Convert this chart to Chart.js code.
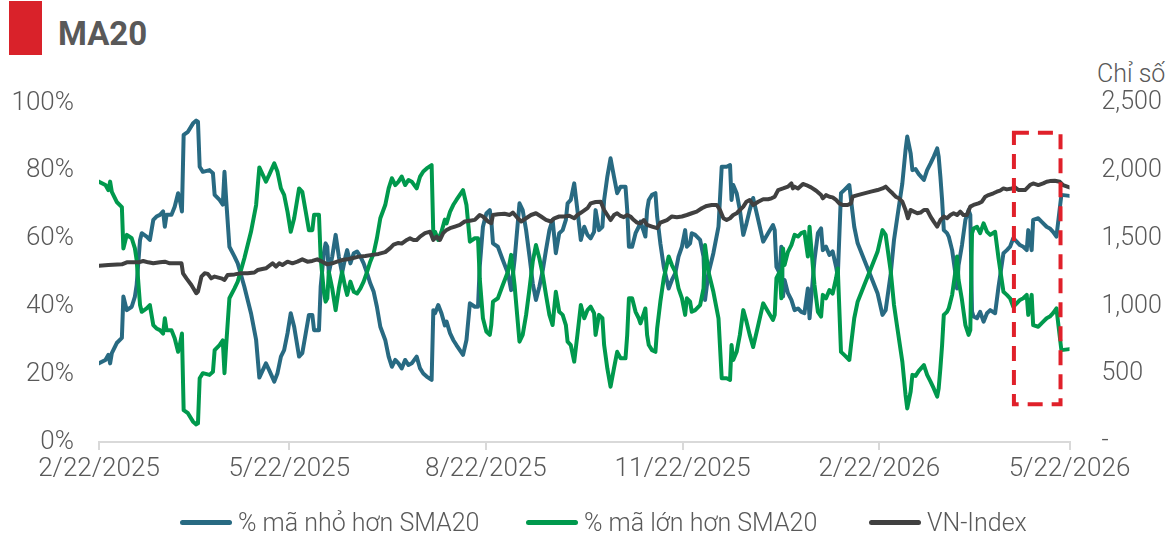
<!DOCTYPE html>
<html>
<head>
<meta charset="utf-8">
<script src="https://cdn.jsdelivr.net/npm/chart.js@4.4.1/dist/chart.umd.min.js"></script>
<style>
  body { margin: 0; background: #fff; font-family: Roboto, sans-serif; }
  #wrap { position: relative; width: 1168px; height: 541px; overflow: hidden; }
  #chart { position: absolute; left: 0; top: 0; }
  .mark { position: absolute; left: 9px; top: 1px; width: 33px; height: 54px; background: #d9222a; }
  .title { position: absolute; left: 58px; top: 14px; font: 700 33px Roboto, sans-serif; color: #595959; }
  .unit { position: absolute; left: 1097px; top: 59px; font: 300 25px Roboto, sans-serif; color: #595959; white-space: nowrap; }
  .legend { position: absolute; top: 507px; height: 30px; display: flex; align-items: center; font: 300 25px Roboto, sans-serif; color: #595959; white-space: nowrap; }
  .legend i { display: inline-block; width: 52px; height: 5px; border-radius: 3px; margin-right: 6px; }
</style>
</head>
<body>
<div id="wrap">
  <div class="mark"></div>
  <div class="title">MA20</div>
  <div class="unit">Chỉ số</div>
  <canvas id="chart" width="1168" height="541"></canvas>
  <div class="legend" style="left:180px"><i style="background:#286a82"></i>% mã nhỏ hơn SMA20</div>
  <div class="legend" style="left:526px"><i style="background:#00994d"></i>% mã lớn hơn SMA20</div>
  <div class="legend" style="left:869px"><i style="background:#404040"></i>VN-Index</div>
</div>
<script>
// days counted from 2/22/2025
const tickDays = [0, 89, 181, 273, 365, 454];
const tickLabels = ['2/22/2025', '5/22/2025', '8/22/2025', '11/22/2025', '2/22/2026', '5/22/2026'];

const breadthDays = [
  0, 3, 4.4, 5.2, 6, 8.3, 10.7, 11.4, 13, 15.3,
  16.8, 17.6, 19.2, 20, 22.3, 23.8, 25.4, 26.9, 28.5, 30,
  30.8, 31.6, 33.9, 35.4, 37, 37.8, 38.8, 39.6, 41.6, 44,
  45.5, 46.3, 47.1, 48.6, 51.7, 53.3, 54.1, 56.4, 57.9, 58.7,
  59.5, 61, 63.4, 64.9, 68, 71.1, 73.5, 75, 78.1, 79.6,
  82, 83.5, 85.1, 86.6, 88.2, 89.7, 91.3, 93.6, 95.1, 96.7,
  98.2, 99.8, 100.6, 102.9, 103.7, 105.2, 106, 106.8, 107.5, 109.1,
  110.7, 112.2, 113.7, 115.3, 116.1, 117.6, 119.2, 120.7, 122.3, 123.8,
  125.4, 126.9, 128.5, 130, 131.6, 133.9, 135.5, 137, 138.6, 140.1,
  141.6, 143.2, 144.8, 146.3, 148.6, 150.2, 151.7, 153.3, 155.6, 156.4,
  157.2, 158.7, 160.2, 161.8, 162.6, 164.2, 165.7, 167.2, 170.3, 171.9,
  173.5, 175.8, 177.3, 178.1, 179.6, 181.2, 182.8, 183.5, 184.3, 186.6,
  188.9, 191.3, 192.8, 194.4, 196.7, 198.2, 199.8, 201.4, 202.9, 204.4,
  206, 207.6, 209.1, 210.7, 212.2, 213.7, 215.3, 216.9, 218.4, 219.2,
  220.7, 222.3, 223.8, 225.4, 227, 228.5, 230, 231.6, 232.3, 233.9,
  235.5, 236.3, 237.8, 239.3, 240.9, 242.4, 244, 246.3, 247.1, 247.9,
  249.4, 251, 252.5, 253.3, 254.9, 255.6, 256.4, 257.2, 258.7, 260.3,
  261.1, 262.6, 264.2, 266.5, 268, 269.6, 271.1, 272.7, 274.2, 275,
  276.5, 277.3, 278.9, 281.2, 282.8, 283.5, 285.1, 287.4, 289.8, 291.3,
  293.6, 295.2, 295.9, 296.7, 298.3, 299.8, 301.4, 302.9, 304.4, 306,
  308.4, 310.7, 313, 315.3, 316.1, 316.9, 318.4, 319.2, 320, 320.7,
  322.3, 323.9, 325.4, 327, 328.5, 330, 331.6, 332.4, 333.1, 334.7,
  336.3, 337.8, 338.6, 340.1, 341.7, 343.2, 344.8, 345.6, 347.1, 348.6,
  351, 351.8, 353.3, 354.9, 358, 361.1, 364.2, 366.5, 368, 370.4,
  371.9, 373.5, 375.8, 377.3, 378.1, 379.7, 380.5, 382, 383.5, 385.9,
  387.4, 389, 390.5, 392.1, 392.8, 393.6, 394.4, 395.2, 396.7, 397.5,
  399.1, 400.6, 401.4, 402.1, 403.7, 405.3, 406.8, 407.6, 408.4, 409.1,
  410.7, 412.2, 413.8, 415.4, 416.9, 419.2, 420.8, 423.1, 424.7, 426.2,
  427.7, 429.3, 430.8, 432.4, 434, 434.7, 435.5, 436.3, 437, 439.4,
  440.9, 443.3, 444.8, 446.3, 447.9, 450.2, 454
];

// % of tickers below their 20-day SMA
const belowSma = [
  23.2, 24.2, 25.7, 23.2, 26.2, 29.2, 30.7, 42.9, 38.9, 39.9,
  42.9, 46.3, 59.6, 61.6, 60.6, 59.6, 65.5, 66.5, 67, 68,
  63.5, 67, 67, 69.4, 73.4, 71.4, 68, 90.6, 91.5, 94,
  94.8, 94.5, 81.2, 79.7, 80.2, 79.3, 72.9, 71.4, 70, 79.7,
  71.4, 57.6, 54.7, 52.7, 45.8, 38, 30.1, 19, 23.2, 21.2,
  17.8, 20.3, 25.2, 27.1, 32.1, 38, 34, 25.2, 26.2, 32,
  37.5, 37.5, 33, 33, 45.8, 55.7, 58.6, 57.6, 49.8, 54.7,
  61.1, 54.7, 49.8, 54.7, 56.6, 52.7, 55.7, 56.2, 54.7, 52.7,
  49.8, 46.8, 44.3, 39.9, 34, 30.1, 25.2, 22.2, 24.2, 23.2,
  21.7, 24.2, 22.7, 23.2, 25.2, 21.7, 20.2, 19.3, 18.3, 38.9,
  38, 40.4, 38, 34.4, 35.5, 32.1, 30.1, 28.6, 25.7, 30.1,
  40.9, 39.9, 39.9, 51.7, 63.5, 67.4, 68.4, 65.5, 58.6, 57.6,
  53.7, 49.8, 44.8, 53.7, 70.4, 68.4, 62.5, 54.7, 46.8, 41.9,
  45.8, 50.7, 56.6, 62.5, 65.5, 55.7, 61.6, 62.5, 65.5, 70.4,
  71.4, 76.3, 68.4, 59.6, 63.5, 61.1, 60.1, 62, 68.4, 62.5,
  63.5, 71.4, 78.3, 83.7, 78.3, 73.4, 75.3, 75.3, 68.4, 57.6,
  57.6, 61.6, 63.5, 65, 62, 60.6, 68.4, 71.4, 72.9, 73.4,
  66.5, 58.6, 51.7, 45.3, 47.8, 49.8, 54.7, 57.6, 62.5, 57.6,
  58.6, 61.6, 61.1, 59.6, 54.7, 41.9, 49.8, 55.7, 63.5, 81.2,
  81.2, 81.7, 71.4, 75.8, 73.4, 68.4, 61.1, 64.5, 68.4, 72,
  65.5, 59.1, 61.6, 64, 62.5, 51.7, 49.8, 57.6, 42.9, 47.8,
  43.9, 41.9, 38.9, 39.4, 38.4, 38, 45.3, 36.5, 41.9, 53.7,
  61.6, 63, 56.6, 57.6, 55.2, 56.2, 51.7, 48.8, 73.4, 74.3,
  75.8, 71.4, 63.5, 58.6, 53.7, 48.8, 43.9, 37.5, 38.9, 49.8,
  59.6, 66.5, 76.3, 86.1, 90.1, 85.1, 80.2, 80.5, 79, 77.3,
  80.2, 82.2, 84.2, 86.6, 84.2, 78.3, 71.4, 62.5, 61.6, 60.6,
  56.6, 49.8, 45.3, 52.2, 58.1, 65.5, 68.4, 67, 38.5, 37,
  36.5, 38.4, 35.5, 38, 38.9, 38, 45.8, 55.7, 56.6, 57.6,
  60.1, 59.1, 58.1, 57.6, 56.6, 62.5, 59.6, 56.6, 65.5, 66,
  65, 63.5, 63, 62, 60.6, 72.9, 72.6
];

// % of tickers above their 20-day SMA
const aboveSma = [
  76.8, 75.8, 74.3, 76.8, 73.8, 70.8, 69.3, 57.1, 61.1, 60.1,
  57.1, 53.7, 40.4, 38.4, 39.4, 40.4, 34.5, 33.5, 33, 32,
  36.5, 33, 33, 30.6, 26.6, 28.6, 32, 9.4, 8.5, 6,
  5.2, 5.5, 18.8, 20.3, 19.8, 20.7, 27.1, 28.6, 30, 20.3,
  28.6, 42.4, 45.3, 47.3, 54.2, 62, 69.9, 81, 76.8, 78.8,
  82.2, 79.7, 74.8, 72.9, 67.9, 62, 66, 74.8, 73.8, 68,
  62.5, 62.5, 67, 67, 54.2, 44.3, 41.4, 42.4, 50.2, 45.3,
  38.9, 45.3, 50.2, 45.3, 43.4, 47.3, 44.3, 43.8, 45.3, 47.3,
  50.2, 53.2, 55.7, 60.1, 66, 69.9, 74.8, 77.8, 75.8, 76.8,
  78.3, 75.8, 77.3, 76.8, 74.8, 78.3, 79.8, 80.7, 81.7, 61.1,
  62, 59.6, 62, 65.6, 64.5, 67.9, 69.9, 71.4, 74.3, 69.9,
  59.1, 60.1, 60.1, 48.3, 36.5, 32.6, 31.6, 34.5, 41.4, 42.4,
  46.3, 50.2, 55.2, 46.3, 29.6, 31.6, 37.5, 45.3, 53.2, 58.1,
  54.2, 49.3, 43.4, 37.5, 34.5, 44.3, 38.4, 37.5, 34.5, 29.6,
  28.6, 23.7, 31.6, 40.4, 36.5, 38.9, 39.9, 38, 31.6, 37.5,
  36.5, 28.6, 21.7, 16.3, 21.7, 26.6, 24.7, 24.7, 31.6, 42.4,
  42.4, 38.4, 36.5, 35, 38, 39.4, 31.6, 28.6, 27.1, 26.6,
  33.5, 41.4, 48.3, 54.7, 52.2, 50.2, 45.3, 42.4, 37.5, 42.4,
  41.4, 38.4, 38.9, 40.4, 45.3, 58.1, 50.2, 44.3, 36.5, 18.8,
  18.8, 18.3, 28.6, 24.2, 26.6, 31.6, 38.9, 35.5, 31.6, 28,
  34.5, 40.9, 38.4, 36, 37.5, 48.3, 50.2, 42.4, 57.1, 52.2,
  56.1, 58.1, 61.1, 60.6, 61.6, 62, 54.7, 63.5, 58.1, 46.3,
  38.4, 37, 43.4, 42.4, 44.8, 43.8, 48.3, 51.2, 26.6, 25.7,
  24.2, 28.6, 36.5, 41.4, 46.3, 51.2, 56.1, 62.5, 61.1, 50.2,
  40.4, 33.5, 23.7, 13.9, 9.9, 14.9, 19.8, 19.5, 21, 22.7,
  19.8, 17.8, 15.8, 13.4, 15.8, 21.7, 28.6, 37.5, 38.4, 39.4,
  43.4, 50.2, 54.7, 47.8, 41.9, 34.5, 31.6, 33, 61.5, 63,
  63.5, 61.6, 64.5, 62, 61.1, 62, 54.2, 44.3, 43.4, 42.4,
  39.9, 40.9, 41.9, 42.4, 43.4, 37.5, 40.4, 43.4, 34.5, 34,
  35, 36.5, 37, 38, 39.4, 27.1, 27.4
];

const indexDays = [
  0, 4.4, 10.7, 13, 18.4, 20.7, 23, 25.4, 28.5, 30.8,
  33.1, 36.2, 38.6, 39.3, 40.9, 43.2, 45.5, 46.3, 47.9, 49.4,
  50.9, 52.5, 54.1, 57.2, 58.7, 60.2, 63.4, 66.5, 69.5, 72.7,
  74.2, 78.1, 81.2, 82.8, 84.3, 85.8, 88.2, 90.5, 92.8, 95.1,
  97.5, 99.8, 102.1, 104.4, 106.8, 109.1, 111.4, 113.7, 116.1, 118.4,
  121.5, 124.6, 127.7, 130.8, 133.9, 136.2, 137.8, 140.1, 141.6, 144,
  145.5, 147.1, 148.6, 150.2, 152.5, 154.9, 156.4, 157.9, 159.5, 161,
  162.6, 164.2, 166.5, 168.8, 171.1, 173.5, 175.8, 178.1, 179.6, 182,
  183.5, 184.3, 186.6, 189.7, 192.1, 193.6, 195.9, 197.5, 199.8, 202.1,
  204.4, 206.8, 209.1, 211.4, 213, 215.3, 217.7, 220, 222.3, 223.8,
  226.2, 228.5, 230, 232.3, 234.7, 236.3, 237.8, 239.3, 240.9, 242.4,
  244, 245.5, 247.1, 248.6, 250.2, 251.7, 253.3, 254.9, 256.4, 258.7,
  261.1, 262.6, 265.7, 268, 270.3, 272.7, 275, 277.3, 279.6, 282,
  284.3, 286.6, 289, 290.5, 292.1, 293.6, 295.2, 296.7, 298.3, 299.8,
  301.4, 302.9, 304.4, 306, 308.4, 310.7, 313, 314.6, 316.1, 317.7,
  320, 322.3, 323.9, 324.6, 325.4, 327, 329.3, 330.8, 333.1, 335.5,
  337.8, 338.6, 340.1, 341.7, 343.2, 344.8, 346.3, 347.9, 350.2, 351.8,
  352.5, 354.9, 358, 361.1, 364.2, 366.5, 368, 369.6, 371.2, 372.7,
  374.2, 375.8, 377.3, 378.4, 379.7, 381.2, 382.8, 384.3, 385.9, 387.4,
  389, 390.5, 392.1, 393.6, 395.2, 396.7, 398.3, 399.8, 401.4, 402.9,
  404.4, 406, 407.6, 409.1, 411.4, 413, 414.6, 416.1, 418.4, 420,
  421.5, 423.1, 424.7, 427, 428.5, 430.1, 433.2, 435.5, 437, 439.4,
  441.7, 443.3, 444.8, 447.1, 449.5, 451, 454
];

const vnIndex = [
  1300, 1305, 1310, 1325, 1325, 1335, 1325, 1318, 1325, 1330,
  1318, 1318, 1318, 1244, 1207, 1158, 1097, 1110, 1219, 1244,
  1240, 1207, 1220, 1207, 1195, 1232, 1236, 1244, 1244, 1250,
  1268, 1281, 1318, 1293, 1318, 1305, 1330, 1318, 1330, 1347,
  1330, 1335, 1347, 1330, 1310, 1318, 1330, 1342, 1347, 1355,
  1367, 1372, 1380, 1387, 1400, 1430, 1455, 1468, 1463, 1490,
  1502, 1490, 1490, 1515, 1540, 1551, 1490, 1515, 1490, 1540,
  1564, 1577, 1589, 1601, 1626, 1632, 1638, 1674, 1663, 1626,
  1613, 1674, 1680, 1683, 1674, 1692, 1650, 1626, 1650, 1674,
  1687, 1663, 1638, 1626, 1650, 1663, 1663, 1668, 1650, 1674,
  1699, 1724, 1760, 1770, 1772, 1711, 1674, 1637, 1674, 1687,
  1667, 1658, 1674, 1663, 1637, 1618, 1613, 1637, 1601, 1589,
  1577, 1618, 1637, 1663, 1658, 1663, 1674, 1687, 1699, 1724,
  1741, 1748, 1748, 1711, 1650, 1637, 1650, 1674, 1687, 1711,
  1736, 1772, 1785, 1748, 1772, 1790, 1790, 1797, 1809, 1858,
  1870, 1883, 1907, 1870, 1883, 1870, 1903, 1895, 1878, 1853,
  1821, 1797, 1821, 1809, 1804, 1785, 1760, 1748, 1748, 1760,
  1809, 1821, 1834, 1846, 1858, 1870, 1883, 1858, 1834, 1809,
  1797, 1772, 1711, 1650, 1711, 1699, 1687, 1692, 1711, 1711,
  1662, 1625, 1588, 1637, 1662, 1650, 1674, 1687, 1674, 1699,
  1674, 1674, 1736, 1748, 1760, 1772, 1809, 1821, 1834, 1846,
  1854, 1870, 1863, 1870, 1878, 1858, 1858, 1895, 1907, 1895,
  1907, 1919, 1924, 1926, 1919, 1895, 1878
];

const toPoints = (xs, ys) => xs.map((x, i) => ({ x: x, y: ys[i] }));

// dashed highlight box over the last weeks
const highlightBox = {
    id: 'highlightBox',
    afterDatasetsDraw(chart) {
        const x = chart.scales.x, y = chart.scales.yPct;
        const left = x.getPixelForValue(428), right = x.getPixelForValue(449.8);
        const top = y.getPixelForValue(91.2), bottom = y.getPixelForValue(11.1);
        const ctx = chart.ctx;
        ctx.save();
        ctx.strokeStyle = '#e0202a';
        ctx.lineWidth = 4;
        ctx.setLineDash([15, 9]);
        ctx.strokeRect(left, top, right - left, bottom - top);
        ctx.restore();
    }
};

const tickFont = { family: 'Roboto', size: 26, weight: 300 };

new Chart(document.getElementById('chart'), {
    type: 'line',
    data: {
        datasets: [
            {
                label: 'VN-Index',
                data: toPoints(indexDays, vnIndex),
                yAxisID: 'yIdx',
                borderColor: '#404040',
                order: 0
            },
            {
                label: '% mã lớn hơn SMA20',
                data: toPoints(breadthDays, aboveSma),
                yAxisID: 'yPct',
                borderColor: '#00994d',
                order: 1
            },
            {
                label: '% mã nhỏ hơn SMA20',
                data: toPoints(breadthDays, belowSma),
                yAxisID: 'yPct',
                borderColor: '#286a82',
                order: 2
            }
        ]
    },
    options: {
        responsive: false,
        animation: false,
        devicePixelRatio: 1,
        layout: { padding: { top: 103, left: 0, right: 0, bottom: 0 } },
        elements: {
            line: { borderWidth: 4, tension: 0, borderJoinStyle: 'round', borderCapStyle: 'round', fill: false },
            point: { radius: 0 }
        },
        plugins: {
            legend: { display: false },
            tooltip: { enabled: false }
        },
        scales: {
            x: {
                type: 'linear',
                min: 0,
                max: 454,
                afterFit: s => { s.height = 99; },
                afterBuildTicks: s => { s.ticks = tickDays.map(v => ({ value: v })); },
                border: { color: '#d9d9d9', width: 2 },
                grid: { drawOnChartArea: false, drawTicks: true, tickLength: 8, color: '#d9d9d9', lineWidth: 2 },
                ticks: {
                    autoSkip: false,
                    maxRotation: 0,
                    padding: 4,
                    color: '#595959',
                    font: tickFont,
                    callback: v => tickLabels[tickDays.indexOf(v)] || ''
                }
            },
            yPct: {
                position: 'left',
                min: 0,
                max: 100,
                afterFit: s => { s.width = 99; },
                border: { display: false },
                grid: { display: false },
                ticks: {
                    stepSize: 20,
                    padding: 17,
                    color: '#595959',
                    font: tickFont,
                    callback: v => v + '%'
                }
            },
            yIdx: {
                position: 'right',
                min: 0,
                max: 2500,
                afterFit: s => { s.width = 98.5; },
                border: { display: false },
                grid: { display: false },
                ticks: {
                    stepSize: 500,
                    padding: 24,
                    color: '#595959',
                    font: { family: 'Roboto', size: 25, weight: 300 },
                    callback: v => v === 0 ? '-' : v.toLocaleString('en-US')
                }
            }
        }
    },
    plugins: [highlightBox]
});
</script>
</body>
</html>
